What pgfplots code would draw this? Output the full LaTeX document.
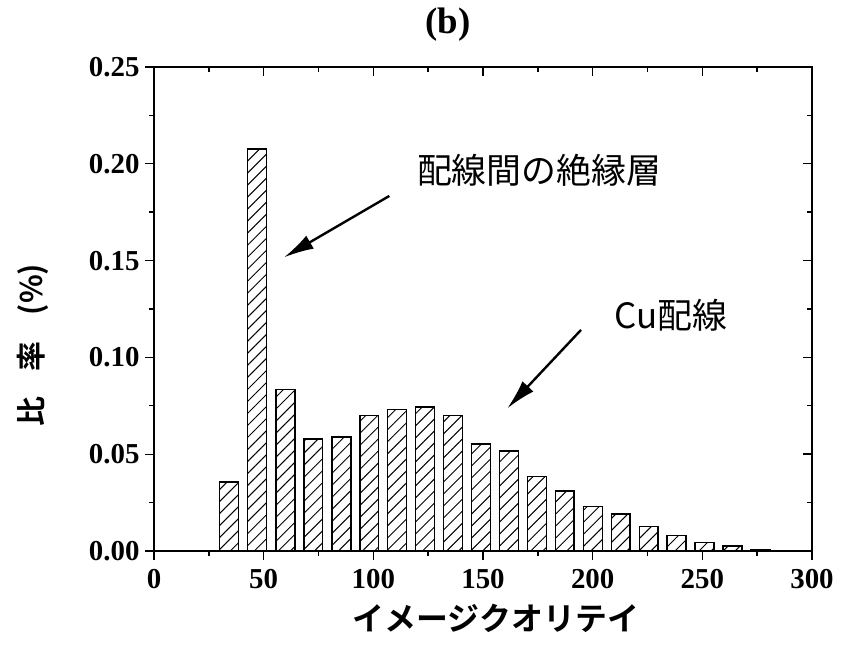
\documentclass[border=0pt]{standalone}
\usepackage{fontspec}
\usepackage{pgfplots}
\pgfplotsset{compat=1.18}
\usetikzlibrary{patterns.meta,arrows.meta}
\setmainfont{Liberation Serif}
\newfontfamily\cjk{Noto Sans CJK JP}
\newfontfamily\cjkb{Noto Sans CJK JP Bold}
\begin{document}
\begin{tikzpicture}
\begin{axis}[
  scale only axis, width=658bp, height=484bp,
  xmin=0, xmax=300, ymin=0, ymax=0.25,
  axis line style={line width=1.6bp},
  xtick={0,50,...,300}, minor xtick={25,75,...,275},
  ytick={0,0.05,...,0.25}, minor ytick={0.025,0.075,...,0.225},
  xtick pos=bottom, ytick pos=left, tick align=outside,
  major tick length=9bp, minor tick length=5bp,
  every tick/.style={line width=1.4bp, black},
  ticklabel style={font=\fontsize{29}{31}\selectfont\bfseries},
  xticklabel style={yshift=-6bp},
  yticklabel style={xshift=-2bp, /pgf/number format/.cd, fixed, fixed zerofill, precision=2},
  /pgf/number format/assume math mode=true,
  scaled y ticks=false,
  clip=false,
  ybar, bar width=8.6,
]
\addplot[draw=black, line width=1.6bp, pattern={Lines[angle=45,distance=8.5bp,line width=1bp]}, pattern color=black]
coordinates {
(34.2,0.0355) (47.0,0.2075) (59.9,0.0835) (72.6,0.0579) (85.4,0.0589)
(98.1,0.0699) (110.8,0.0730) (123.6,0.0744) (136.3,0.0699) (149.1,0.0553)
(161.8,0.0515) (174.6,0.0384) (187.3,0.0311) (200.1,0.0229) (212.8,0.0191)
(225.6,0.0127) (238.3,0.0081) (251.0,0.0043) (263.8,0.0026) (276.5,0.0006)
};
\draw[line width=2.4bp, -{Latex[length=30bp,width=15bp]}] (axis cs:107.3,0.1834) -- (axis cs:59.3,0.1517);
\draw[line width=2.4bp, -{Latex[length=30bp,width=15bp]}] (axis cs:194.7,0.1142) -- (axis cs:161.1,0.0737);
\node[font=\cjk\fontsize{35}{38}\selectfont] at (axis cs:175.6,0.1968) {配線間の絶縁層};
\node[font=\cjk\fontsize{35}{38}\selectfont] at (axis cs:235.8,0.1219) {Cu配線};
\node[font=\fontsize{37}{39}\selectfont\bfseries] at (axis description cs:0.4468,1.0868) {(b)};
\node[font=\cjkb\fontsize{32}{34}\selectfont] at (axis description cs:0.5198,-0.1384) {イメージクオリテイ};
\node[font=\cjkb\fontsize{30}{32}\selectfont, rotate=90] at (axis description cs:-0.1839,0.425) {比\hspace{26bp}率\hspace{26bp}(\%)};
\end{axis}
\begin{axis}[
  scale only axis, width=658bp, height=484bp,
  xmin=0, xmax=300, ymin=0, ymax=0.25,
  axis line style={line width=1.6bp},
  xtick={0,50,...,300}, minor xtick={25,75,...,275},
  ytick={0,0.05,...,0.25}, minor ytick={0.025,0.075,...,0.225},
  xtick pos=top, ytick pos=right, tick align=inside,
  major tick length=9bp, minor tick length=5bp,
  every tick/.style={line width=1.4bp, black},
  xticklabels={}, yticklabels={},
]
\end{axis}
\pgfresetboundingbox
\path[use as bounding box] (-154bp,-110bp) rectangle (688bp,551bp);
\end{tikzpicture}
\end{document}
